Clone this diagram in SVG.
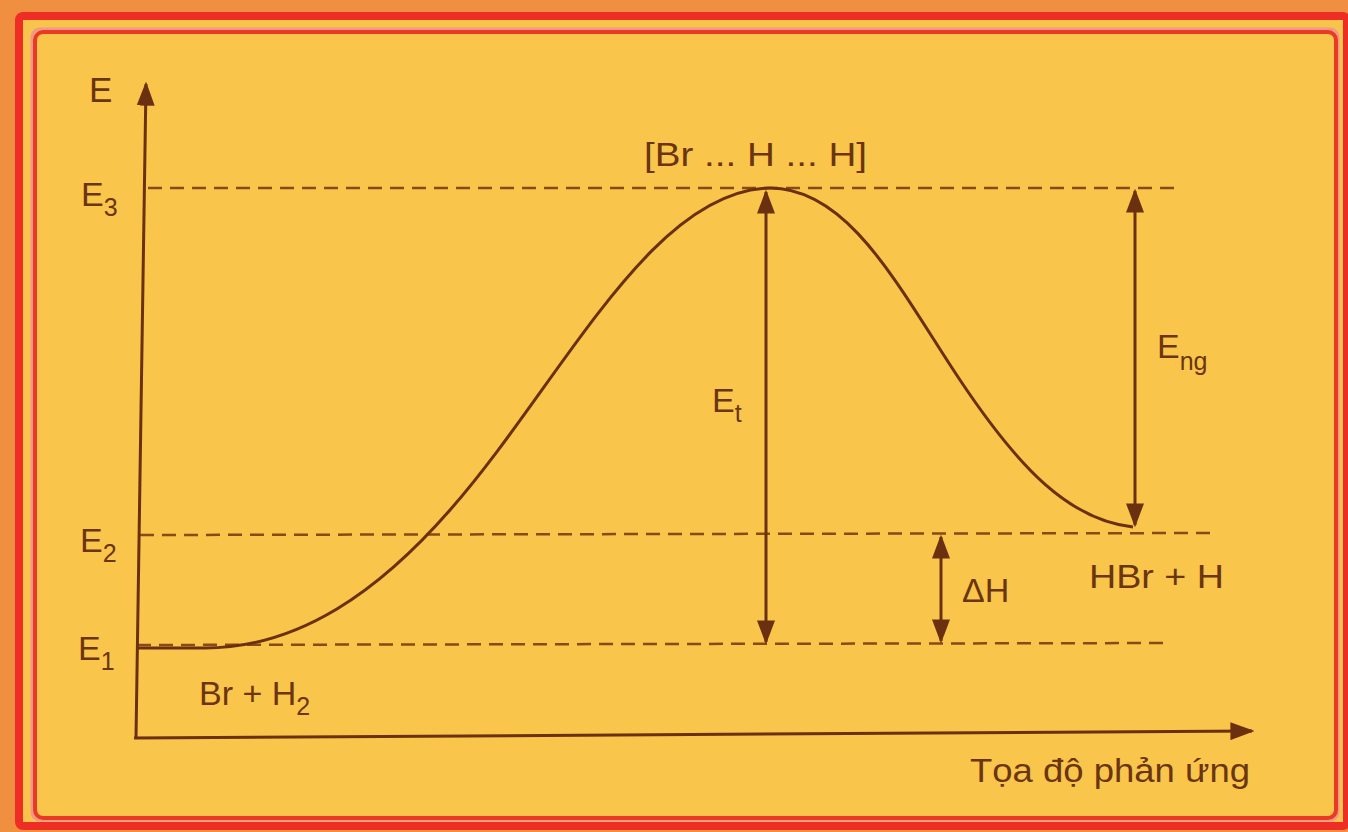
<svg xmlns="http://www.w3.org/2000/svg" width="1348" height="832" viewBox="0 0 1348 832">
<defs>
<marker id="ahs" viewBox="0 0 10 10" refX="9" refY="5" markerWidth="24" markerHeight="18" markerUnits="userSpaceOnUse" orient="auto-start-reverse" preserveAspectRatio="none">
<path d="M0,0 L10,5 L0,10 Z" fill="#6b3010"/>
</marker>
</defs>
<style>
.t{font-family:"Liberation Sans",Arial,sans-serif;fill:#6b3512;font-size:34px}
.sub{font-size:25px}
.dash{stroke:#8a4a14;stroke-width:2.5;stroke-dasharray:14 8;fill:none}
.ln{stroke:#6b3010;stroke-width:3;fill:none}
.arr{stroke:#6b3010;stroke-width:3;fill:none;marker-end:url(#ahs);marker-start:url(#ahs)}
</style>
<rect x="0" y="0" width="1348" height="832" fill="#ef8f3f"/>
<rect x="19" y="16" width="1328" height="810" fill="#f9c44c" stroke="#ee2e24" stroke-width="8" rx="4"/>
<rect x="32" y="29" width="1306" height="791" fill="none" stroke="#f0988a" stroke-width="3" rx="8"/>
<rect x="35" y="32" width="1301" height="786" fill="#f9c54a" stroke="#ea3a26" stroke-width="4" rx="8"/>

<g id="guides">
<line class="dash" x1="148" y1="188" x2="1180" y2="188"/>
<line class="dash" x1="140" y1="535" x2="1214" y2="533"/>
<line class="dash" x1="137" y1="645" x2="1170" y2="643"/>
</g>

<g id="axes">
<line class="ln" x1="136" y1="738" x2="146" y2="84" marker-end="url(#ahs)"/>
<line class="ln" x1="134" y1="738" x2="1252" y2="731" marker-end="url(#ahs)"/>
<text class="t" x="89" y="102" style="font-size:35px">E</text>
<text class="t" x="970" y="782" textLength="280" lengthAdjust="spacingAndGlyphs">Tọa độ phản ứng</text>
</g>

<g id="levels">
<text class="t" x="81" y="206">E<tspan class="sub" dy="10">3</tspan></text>
<text class="t" x="80" y="552">E<tspan class="sub" dy="10">2</tspan></text>
<text class="t" x="78" y="660">E<tspan class="sub" dy="10">1</tspan></text>
</g>

<g id="curve">
<path class="ln" d="M137,648 L205,648 C300,648 380,590 450,510 C560,385 650,190 770,188 C850,188 900,290 960,380 C1020,470 1070,520 1133,527"/>
</g>

<g id="connectors">
<line class="arr" x1="766" y1="192" x2="766" y2="642"/>
<line class="arr" x1="1135" y1="191" x2="1135" y2="525"/>
<line class="arr" x1="941" y1="537" x2="941" y2="641"/>
</g>

<g id="labels">
<text class="t" x="644" y="166" textLength="223" lengthAdjust="spacingAndGlyphs">[Br ... H ... H]</text>
<text class="t" x="712" y="412">E<tspan class="sub" dy="10">t</tspan></text>
<text class="t" x="1157" y="358">E<tspan class="sub" dy="12">ng</tspan></text>
<text class="t" x="962" y="602">ΔH</text>
<text class="t" x="1089" y="588" textLength="135" lengthAdjust="spacingAndGlyphs">HBr + H</text>
<text class="t" x="199" y="705">Br + H<tspan class="sub" dy="10">2</tspan></text>
</g>
</svg>
